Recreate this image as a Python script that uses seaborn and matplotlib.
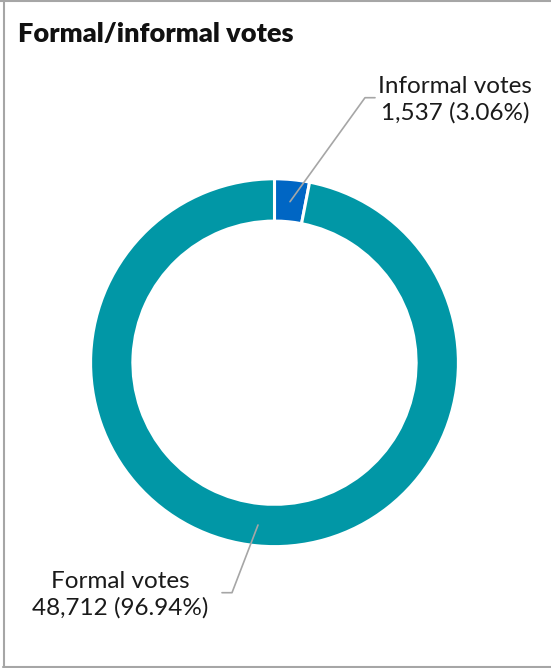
import matplotlib
matplotlib.use("Agg")
import matplotlib.pyplot as plt
import seaborn as sns
from matplotlib.lines import Line2D

sns.set_theme(style="white")
plt.rcParams['font.family'] = ['Lato', 'DejaVu Sans']

# Data
categories = ["Informal votes", "Formal votes"]
counts = [1537, 48712]
percents = [3.06, 96.94]
colors = ["#0066c4", "#0197a6"]

W, H = 551, 668
fig = plt.figure(figsize=(W / 100, H / 100), dpi=100)
fig.patch.set_facecolor("white")

# donut axes: center (274.5, 362.7), outer radius 183 px
cx, cy, r = 274.5, 362.7, 183.0
ax = fig.add_axes([(cx - r) / W, 1 - (cy + r) / H, 2 * r / W, 2 * r / H])
wedges, _ = ax.pie(counts, colors=colors, startangle=90, counterclock=False,
                   radius=1.0,
                   wedgeprops=dict(width=0.23, edgecolor="white", linewidth=2.2))
ax.set_xlim(-0.995, 0.995)
ax.set_ylim(-0.995, 0.995)
ax.set_aspect("equal")
ax.axis("off")

def px(x, y):
    return x / W, 1 - y / H

lc = "#a6a6a6"
# leader line: informal
xs, ys = zip(px(290, 201.7), px(365, 97.7), px(375, 97.7))
fig.add_artist(Line2D(xs, ys, color=lc, lw=1.2))
# leader line: formal
xs, ys = zip(px(258, 525), px(232, 592.7), px(222, 592.7))
fig.add_artist(Line2D(xs, ys, color=lc, lw=1.2))

labels = [f"{c}\n{n:,} ({p:.2f}%)" for c, n, p in zip(categories, counts, percents)]
x, y = px(455, 99.5)
fig.text(x, y, labels[0], ha="center", va="center", fontsize=17.5,
         color="#1a1a1a", linespacing=1.3)
x, y = px(120, 594.5)
fig.text(x, y, labels[1], ha="center", va="center", fontsize=17.5,
         color="#1a1a1a", linespacing=1.3)

# title
x, y = px(18, 34)
fig.text(x, y, "Formal/informal votes", ha="left", va="center",
         fontsize=19.5, fontweight="heavy", color="#111111")

# border
bc = "#a6a6a6"
fig.add_artist(Line2D(*zip(px(0, 0.8), px(W, 0.8)), color=bc, lw=1.5))
fig.add_artist(Line2D(*zip(px(3.8, 0), px(3.8, 666.5)), color=bc, lw=1.5))
fig.add_artist(Line2D(*zip(px(3, 666.5), px(W, 666.5)), color=bc, lw=1.5))

fig.savefig("out.png", dpi=100, facecolor="white")
